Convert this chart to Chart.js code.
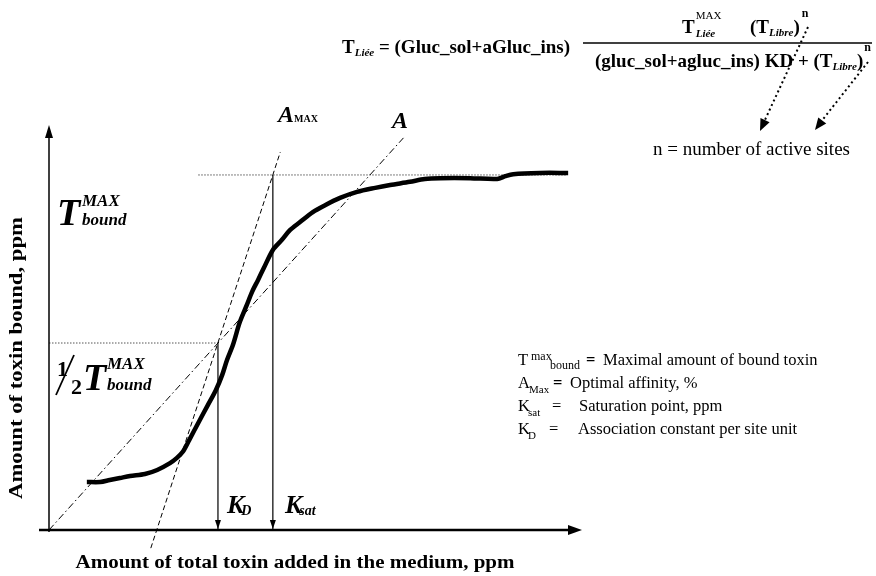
<!DOCTYPE html>
<html>
<head>
<meta charset="utf-8">
<script src="https://cdn.jsdelivr.net/npm/chart.js@4.4.1/dist/chart.umd.min.js"></script>
<style>
  html, body { margin: 0; padding: 0; background: #fff; }
  canvas { display: block; }
</style>
</head>
<body>
<canvas id="bindingChart" width="876" height="576"></canvas>
<script>
// binding curve, arbitrary units (0-100 on both axes)
const toxinAdded = [7.1, 9.6, 11.4, 13.3, 15.2, 18.0, 20.3, 22.7, 24.0, 25.1, 26.3, 28.1, 29.8, 31.3, 32.5, 33.4, 34.5, 35.8, 37.1, 38.1, 39.2, 40.3, 42.0, 43.7, 45.2, 47.1, 49.5, 51.8, 54.6, 57.8, 61.2, 64.0, 67.7, 70.5, 73.4, 79.0, 84.1, 85.6, 87.1, 92.1, 97.4];
const toxinBound = [11.9, 11.9, 12.4, 12.9, 13.4, 13.9, 14.9, 16.6, 17.9, 19.4, 22.3, 26.8, 31.0, 34.7, 38.5, 42.2, 45.9, 51.6, 55.8, 59.1, 62.0, 65.0, 69.5, 72.0, 74.4, 76.4, 78.9, 80.6, 82.4, 83.9, 84.9, 85.6, 86.4, 87.1, 87.3, 87.3, 87.1, 87.8, 88.3, 88.6, 88.6];

const tMaxBound = 88.1;
const halfBound = 46.4;
const kD = 31.7;
const kSat = 42.0;

// tangent lines (end points)
const aMaxX = [19.1, 43.4];
const aMaxY = [-4.5, 93.8];
const aX = [0, 66.5];
const aY = [0, 97.3];

const SERIF = '"Liberation Serif", "DejaVu Serif", serif';

function pts(xs, ys) {
    return xs.map((x, i) => ({ x: x, y: ys[i] }));
}

function txt(ctx, s, x, y, font) {
    ctx.font = font + ' ' + SERIF;
    ctx.fillText(s, x, y);
    return x + ctx.measureText(s).width;
}

function fitText(ctx, s, cx, cy, font, width) {
    ctx.font = font + ' ' + SERIF;
    const w = ctx.measureText(s).width;
    ctx.save();
    ctx.translate(cx, cy);
    ctx.scale(width / w, 1);
    ctx.textAlign = 'center';
    ctx.fillText(s, 0, 0);
    ctx.restore();
}

function arrowHead(ctx, x, y, angle, len, half) {
    ctx.save();
    ctx.translate(x, y);
    ctx.rotate(angle);
    ctx.beginPath();
    ctx.moveTo(0, 0);
    ctx.lineTo(-len, -half);
    ctx.lineTo(-len, half);
    ctx.closePath();
    ctx.fill();
    ctx.restore();
}

const decorations = {
    id: 'decorations',
    afterDraw(chart) {
        const ctx = chart.ctx;
        const xs = chart.scales.x, ys = chart.scales.y;
        const x0 = xs.getPixelForValue(0), y0 = ys.getPixelForValue(0);
        ctx.save();
        ctx.fillStyle = '#000';
        ctx.strokeStyle = '#000';
        ctx.setLineDash([]);

        // axes
        ctx.lineWidth = 1.5;
        ctx.beginPath();
        ctx.moveTo(x0, y0 + 2);
        ctx.lineTo(x0, chart.chartArea.top + 8);
        ctx.stroke();
        arrowHead(ctx, x0, chart.chartArea.top - 2, -Math.PI / 2, 13, 4);
        ctx.lineWidth = 2.5;
        ctx.beginPath();
        ctx.moveTo(x0 - 10, y0);
        ctx.lineTo(chart.chartArea.right - 8, y0);
        ctx.stroke();
        arrowHead(ctx, chart.chartArea.right, y0, 0, 14, 5);

        // arrowheads of Kd and Ksat drop lines
        [kD, kSat].forEach(v => {
            arrowHead(ctx, xs.getPixelForValue(v), y0 - 1, Math.PI / 2, 9, 3);
        });

        ctx.textBaseline = 'alphabetic';
        ctx.textAlign = 'left';

        // axis titles
        fitText(ctx, 'Amount of total toxin added in the medium, ppm', 295, 568, 'bold 18px', 439);
        ctx.save();
        ctx.translate(22, 358);
        ctx.rotate(-Math.PI / 2);
        fitText(ctx, 'Amount of toxin bound, ppm', 0, 0, 'bold 18px', 282);
        ctx.restore();

        // T max bound label
        txt(ctx, 'T', 57, 225, 'bold italic 38px');
        txt(ctx, 'MAX', 82, 206, 'bold italic 17px');
        txt(ctx, 'bound', 82, 225, 'bold italic 17px');

        // 1/2 T max bound label
        txt(ctx, '1', 57, 376, 'bold 22px');
        ctx.lineWidth = 1.8;
        ctx.beginPath();
        ctx.moveTo(56, 395);
        ctx.lineTo(74, 355);
        ctx.stroke();
        txt(ctx, '2', 71, 394, 'bold 22px');
        txt(ctx, 'T', 83, 390, 'bold italic 38px');
        txt(ctx, 'MAX', 107, 369, 'bold italic 17px');
        txt(ctx, 'bound', 107, 390, 'bold italic 17px');

        // line names
        let x = txt(ctx, 'A', 278, 122, 'bold italic 24px');
        txt(ctx, 'MAX', x, 122, 'bold 10px');
        txt(ctx, 'A', 392, 128, 'bold italic 24px');

        // Kd / Ksat
        x = txt(ctx, 'K', 227, 513, 'bold italic 26px');
        txt(ctx, 'D', x - 3, 515, 'bold italic 14px');
        x = txt(ctx, 'K', 285, 513, 'bold italic 26px');
        txt(ctx, 'sat', x - 3, 515, 'bold italic 14px');

        // formula
        x = txt(ctx, 'T', 342, 53, 'bold 19px');
        x = txt(ctx, 'Liée', x, 56, 'bold italic 11px');
        txt(ctx, ' = (Gluc_sol+aGluc_ins)', x, 53, 'bold 19px');
        ctx.lineWidth = 1.5;
        ctx.beginPath();
        ctx.moveTo(583, 43);
        ctx.lineTo(872, 43);
        ctx.stroke();
        x = txt(ctx, 'T', 682, 33, 'bold 19px');
        txt(ctx, 'MAX', x + 1, 19, '11px');
        txt(ctx, 'Liée', x + 1, 37, 'bold italic 11px');
        x = txt(ctx, '(T', 750, 33, 'bold 19px');
        x = txt(ctx, 'Libre', x, 36, 'bold italic 11px');
        x = txt(ctx, ')', x, 33, 'bold 19px');
        txt(ctx, 'n', x + 2, 17, 'bold 12px');
        x = txt(ctx, '(gluc_sol+agluc_ins) KD + (T', 595, 67, 'bold 19px');
        x = txt(ctx, 'Libre', x, 70, 'bold italic 11px');
        x = txt(ctx, ')', x, 67, 'bold 19px');
        txt(ctx, 'n', x + 1, 51, 'bold 12px');

        // dotted pointers to the note
        ctx.lineWidth = 2;
        ctx.setLineDash([2, 3]);
        [[808, 27, 764, 122], [868, 62, 820, 123]].forEach(p => {
            ctx.beginPath();
            ctx.moveTo(p[0], p[1]);
            ctx.lineTo(p[2], p[3]);
            ctx.stroke();
        });
        ctx.setLineDash([]);
        arrowHead(ctx, 760, 131, Math.atan2(95, -44), 12, 5);
        arrowHead(ctx, 815, 130, Math.atan2(66, -50), 12, 5);
        txt(ctx, 'n = number of active sites', 653, 155, '19px');

        // key
        txt(ctx, 'T', 518, 365, '16.5px');
        txt(ctx, 'max', 531, 360, '12px');
        x = txt(ctx, 'bound', 550, 369, '12px');
        txt(ctx, '=', x + 6, 365, 'bold 16.5px');
        txt(ctx, 'Maximal amount of bound toxin', x + 23, 365, '16.5px');
        txt(ctx, 'A', 518, 388, '16.5px');
        txt(ctx, 'Max', 529, 393, '11px');
        txt(ctx, '=', 553, 388, 'bold 16.5px');
        txt(ctx, 'Optimal affinity, %', 570, 388, '16.5px');
        txt(ctx, 'K', 518, 411, '16.5px');
        txt(ctx, 'sat', 528, 416, '11px');
        txt(ctx, '=', 552, 411, '16.5px');
        txt(ctx, 'Saturation point, ppm', 579, 411, '16.5px');
        txt(ctx, 'K', 518, 434, '16.5px');
        txt(ctx, 'D', 528, 439, '11px');
        txt(ctx, '=', 549, 434, '16.5px');
        txt(ctx, 'Association constant per site unit', 578, 434, '16.5px');

        ctx.restore();
    }
};

new Chart(document.getElementById('bindingChart'), {
    type: 'scatter',
    data: {
        datasets: [
            { label: 'bound', data: pts(toxinAdded, toxinBound), showLine: true, borderColor: '#000', borderWidth: 4.5, pointRadius: 0, tension: 0.3, clip: false, order: 0 },
            { label: 'A max', data: pts(aMaxX, aMaxY), showLine: true, borderColor: '#000', borderWidth: 1, borderDash: [5, 3], pointRadius: 0, clip: false },
            { label: 'A', data: pts(aX, aY), showLine: true, borderColor: '#000', borderWidth: 1, borderDash: [7, 3, 1.5, 3], pointRadius: 0, clip: false },
            { label: 'T max', data: pts([28.0, 97.0], [tMaxBound, tMaxBound]), showLine: true, borderColor: '#555', borderWidth: 1, borderDash: [1.5, 1.5], pointRadius: 0, clip: false },
            { label: 'half', data: pts([0, kD], [halfBound, halfBound]), showLine: true, borderColor: '#555', borderWidth: 1, borderDash: [1.5, 1.5], pointRadius: 0, clip: false },
            { label: 'Kd', data: pts([kD, kD], [halfBound, 0]), showLine: true, borderColor: '#000', borderWidth: 1.2, pointRadius: 0, clip: false },
            { label: 'Ksat', data: pts([kSat, kSat], [tMaxBound, 0]), showLine: true, borderColor: '#000', borderWidth: 1.2, pointRadius: 0, clip: false }
        ]
    },
    options: {
        responsive: false,
        animation: false,
        layout: { padding: { left: 49, right: 294, top: 127, bottom: 46 } },
        scales: {
            x: { type: 'linear', min: 0, max: 100, display: false },
            y: { type: 'linear', min: 0, max: 100, display: false }
        },
        plugins: { legend: { display: false }, tooltip: { enabled: false } }
    },
    plugins: [decorations]
});
</script>
</body>
</html>
